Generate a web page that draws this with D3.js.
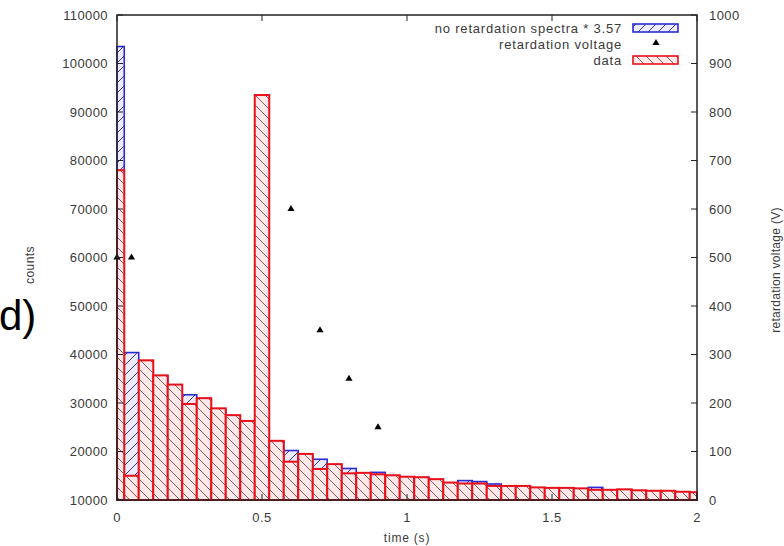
<!DOCTYPE html>
<html lang="en">
<head>
    <meta charset="UTF-8">
    <title>Retardation spectra</title>
    <script src="https://cdnjs.cloudflare.com/ajax/libs/d3/7.8.0/d3.min.js"></script>
    <style>
        body { margin: 0; background: #fff; }
        svg text { font-family: "Liberation Sans", Arial, sans-serif; }
    </style>
</head>
<body>
<svg id="viz" width="784" height="546"></svg>
<script>
    // bin centres (s)
    const times = [0, 0.05, 0.1, 0.15, 0.2, 0.25, 0.3, 0.35, 0.4, 0.45, 0.5,
        0.55, 0.6, 0.65, 0.7, 0.75, 0.8, 0.85, 0.9, 0.95, 1.0,
        1.05, 1.1, 1.15, 1.2, 1.25, 1.3, 1.35, 1.4, 1.45, 1.5,
        1.55, 1.6, 1.65, 1.7, 1.75, 1.8, 1.85, 1.9, 1.95, 2.0];

    const dataCounts = [78000, 15000, 38800, 35700, 33800, 29800, 31000, 28900, 27500, 26300, 93500,
        22200, 17900, 19500, 16400, 17400, 15500, 15600, 15300, 15100, 14800,
        14700, 14300, 13600, 13400, 13400, 12900, 12900, 12900, 12600, 12500,
        12500, 12400, 12100, 12100, 12200, 12000, 11900, 11900, 11700, 11600];

    const noRetCounts = [103500, 40400, 38500, 35500, 33500, 31700, 30800, 28700, 27300, 26000, 25000,
        22000, 20200, 19300, 18400, 17200, 16500, 15400, 15700, 15000, 14700,
        14600, 14200, 13500, 14000, 13800, 13300, 12800, 12800, 12500, 12400,
        12400, 12300, 12600, 12000, 12100, 11900, 11800, 11800, 11600, 11500];

    const voltTimes = [0, 0.05, 0.6, 0.7, 0.8, 0.9];
    const volts = [500, 500, 600, 350, 250, 150];

    const xTicks = [0, 0.5, 1, 1.5, 2];
    const yTicks = [10000, 20000, 30000, 40000, 50000, 60000, 70000, 80000, 90000, 100000, 110000];
    const y2Ticks = [0, 100, 200, 300, 400, 500, 600, 700, 800, 900, 1000];

    const pLeft = 117, pRight = 697, pTop = 15, pBottom = 500;
    const binW = 0.05;

    const svg = d3.select('#viz');
    const x = d3.scaleLinear().domain([0, 2]).range([pLeft, pRight]);
    const y = d3.scaleLinear().domain([10000, 110000]).range([pBottom, pTop]);
    const y2 = d3.scaleLinear().domain([0, 1000]).range([pBottom, pTop]);

    // hatch patterns
    const defs = svg.append('defs');
    const blueP = defs.append('pattern').attr('id', 'hatchBlue')
        .attr('patternUnits', 'userSpaceOnUse').attr('width', 10).attr('height', 10);
    blueP.append('rect').attr('width', 10).attr('height', 10).attr('fill', '#ecebfb');
    blueP.append('path').attr('d', 'M-1,11 L11,-1 M-6,6 L6,-6 M4,16 L16,4')
        .attr('stroke', '#3a3a8a').attr('stroke-width', 1);

    const redP = defs.append('pattern').attr('id', 'hatchRed')
        .attr('patternUnits', 'userSpaceOnUse').attr('width', 10).attr('height', 10);
    redP.append('rect').attr('width', 10).attr('height', 10).attr('fill', '#fde9e9');
    redP.append('path').attr('d', 'M-1,-1 L11,11 M-6,4 L6,16 M4,-6 L16,6')
        .attr('stroke', '#8e5a5a').attr('stroke-width', 1);

    const bin = t => [Math.max(0, t - binW / 2), Math.min(2, t + binW / 2)];

    function drawBars(values, fill, stroke, sw) {
        const g = svg.append('g');
        values.forEach((v, i) => {
            const [a, b] = bin(times[i]);
            g.append('rect')
                .attr('x', x(a)).attr('y', y(v))
                .attr('width', x(b) - x(a)).attr('height', y(10000) - y(v))
                .attr('fill', fill).attr('stroke', stroke).attr('stroke-width', sw);
        });
    }

    drawBars(noRetCounts, 'url(#hatchBlue)', '#2b2bd6', 1.6);
    drawBars(dataCounts, 'url(#hatchRed)', '#e8101a', 2);

    // retardation voltage points
    const tri = d3.symbol().type(d3.symbolTriangle).size(22);
    svg.append('g').selectAll('path').data(voltTimes).join('path')
        .attr('d', tri)
        .attr('transform', (d, i) => 'translate(' + x(d) + ',' + y2(volts[i]) + ')')
        .attr('fill', '#000');

    // frame
    svg.append('rect').attr('x', pLeft).attr('y', pTop)
        .attr('width', pRight - pLeft).attr('height', pBottom - pTop)
        .attr('fill', 'none').attr('stroke', '#222').attr('stroke-width', 1.5);

    const labelColor = '#3a3a3a';
    const fs = 13;

    // left axis
    const gl = svg.append('g');
    yTicks.forEach(t => {
        gl.append('line').attr('x1', pLeft).attr('x2', pLeft + 6).attr('y1', y(t)).attr('y2', y(t))
            .attr('stroke', '#222');
        gl.append('text').attr('x', pLeft - 9).attr('y', y(t)).attr('dy', '0.35em')
            .attr('text-anchor', 'end').attr('font-size', fs).attr('letter-spacing', 0.4)
            .attr('fill', labelColor).text(t);
    });

    // right axis
    const gr = svg.append('g');
    y2Ticks.forEach(t => {
        gr.append('line').attr('x1', pRight).attr('x2', pRight - 6).attr('y1', y2(t)).attr('y2', y2(t))
            .attr('stroke', '#222');
        gr.append('text').attr('x', pRight + 12).attr('y', y2(t)).attr('dy', '0.35em')
            .attr('text-anchor', 'start').attr('font-size', fs).attr('letter-spacing', 0.4)
            .attr('fill', labelColor).text(t);
    });

    // bottom / top ticks
    const gb = svg.append('g');
    xTicks.forEach(t => {
        gb.append('line').attr('x1', x(t)).attr('x2', x(t)).attr('y1', pBottom).attr('y2', pBottom - 6)
            .attr('stroke', '#222');
        gb.append('line').attr('x1', x(t)).attr('x2', x(t)).attr('y1', pTop).attr('y2', pTop + 6)
            .attr('stroke', '#222');
        gb.append('text').attr('x', x(t)).attr('y', pBottom + 22)
            .attr('text-anchor', 'middle').attr('font-size', fs).attr('letter-spacing', 0.4)
            .attr('fill', labelColor).text(t);
    });

    // axis titles
    svg.append('text').attr('x', (pLeft + pRight) / 2).attr('y', pBottom + 42)
        .attr('text-anchor', 'middle').attr('font-size', 12).attr('letter-spacing', 0.8)
        .attr('fill', labelColor).text('time (s)');
    svg.append('text').attr('transform', 'translate(34,265) rotate(-90)')
        .attr('text-anchor', 'middle').attr('font-size', 12).attr('letter-spacing', 0.4)
        .attr('fill', labelColor).text('counts');
    svg.append('text').attr('transform', 'translate(780,270) rotate(-90)')
        .attr('text-anchor', 'middle').attr('font-size', 12).attr('letter-spacing', 0.3)
        .attr('fill', labelColor).text('retardation voltage (V)');

    // stray slide text at the far left
    svg.append('text').attr('x', -1).attr('y', 330).attr('font-size', 42).attr('fill', '#000')
        .text('d)');

    // legend
    const leg = svg.append('g');
    const legItems = [
        { label: 'no retardation spectra * 3.57', kind: 'blue' },
        { label: 'retardation voltage', kind: 'tri' },
        { label: 'data', kind: 'red' }
    ];
    legItems.forEach((d, i) => {
        const ly = 28 + i * 16;
        leg.append('text').attr('x', 622).attr('y', ly).attr('dy', '0.35em')
            .attr('text-anchor', 'end').attr('font-size', 13).attr('letter-spacing', 0.8)
            .attr('fill', labelColor).text(d.label);
        if (d.kind === 'tri') {
            leg.append('path').attr('d', tri).attr('transform', 'translate(656,' + (ly - 1) + ')').attr('fill', '#000');
        } else {
            leg.append('rect').attr('x', 633).attr('y', ly - 4).attr('width', 45).attr('height', 8)
                .attr('fill', d.kind === 'blue' ? 'url(#hatchBlue)' : 'url(#hatchRed)')
                .attr('stroke', d.kind === 'blue' ? '#2b2bd6' : '#e8101a').attr('stroke-width', 1.6);
        }
    });
</script>
</body>
</html>
